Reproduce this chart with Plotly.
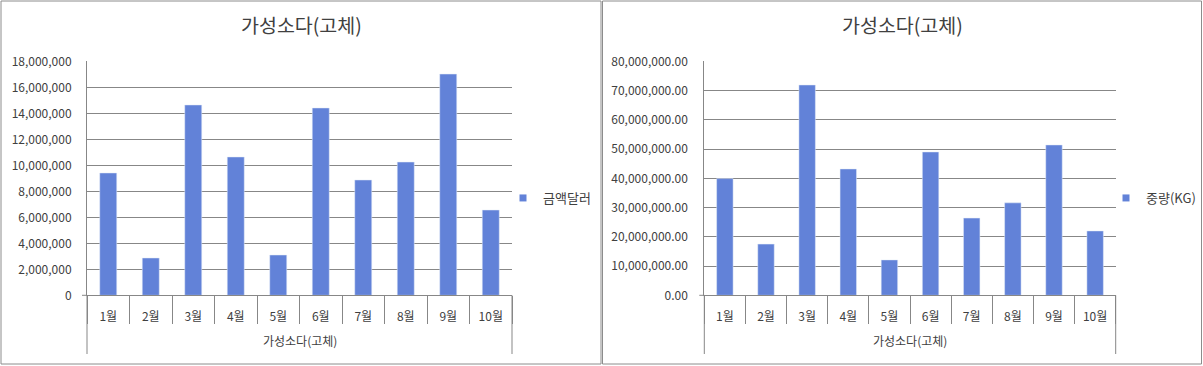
import plotly.graph_objects as go

months = ["1월", "2월", "3월", "4월", "5월", "6월", "7월", "8월", "9월", "10월"]
group_label = "가성소다(고체)"
chart_title = "가성소다(고체)"
amount_name = "금액달러"
weight_name = "중량(KG)"
amount_usd = [9410000, 2870000, 14640000, 10640000, 3100000, 14410000, 8870000, 10250000, 17020000, 6560000]
weight_kg = [39900000, 17500000, 71900000, 43200000, 12100000, 49000000, 26400000, 31600000, 51400000, 22000000]

W, H = 1203, 366
BAR = "#6282D8"
GRID = "#878787"
FONT = "Malgun Gothic, Noto Sans CJK KR, sans-serif"
TXT = "#404040"

def px(v):
    return v / W

def py(v):
    return 1 - v / H

y_top, y_bot = 61.3, 295.3
dom_left = [px(87), px(512)]
dom_right = [px(704.3), px(1115.7)]

fig = go.Figure()
fig.add_trace(go.Bar(x=months, y=amount_usd, name=amount_name, marker_color=BAR,
                     xaxis="x", yaxis="y", showlegend=False))
fig.add_trace(go.Bar(x=months, y=weight_kg, name=weight_name, marker_color=BAR,
                     xaxis="x2", yaxis="y2", showlegend=False))
# legend entries (small square markers like the original)
fig.add_trace(go.Scatter(x=[None], y=[None], mode="markers", name=amount_name,
                         marker=dict(symbol="square", size=7, color=BAR),
                         xaxis="x", yaxis="y", legend="legend"))
fig.add_trace(go.Scatter(x=[None], y=[None], mode="markers", name=weight_name,
                         marker=dict(symbol="square", size=7, color=BAR),
                         xaxis="x2", yaxis="y2", legend="legend2"))

xcommon = dict(type="category", tickson="boundaries", ticks="outside", ticklen=28,
               tickcolor=GRID, tickwidth=1, showline=True, linecolor=GRID, linewidth=1,
               showgrid=False, ticklabelstandoff=10, automargin=False,
               tickfont=dict(family=FONT, size=12, color=TXT), fixedrange=True)
ycommon = dict(showgrid=True, gridcolor=GRID, gridwidth=1, showline=True, linecolor=GRID,
               linewidth=1, zeroline=False, ticks="", automargin=False,
               tickfont=dict(family=FONT, size=12, color=TXT), fixedrange=True)

fig.update_layout(
    width=W, height=H, margin=dict(l=0, r=0, t=0, b=0, pad=0, autoexpand=False),
    paper_bgcolor="white", plot_bgcolor="white",
    bargap=0.6, font=dict(family=FONT, color=TXT),
    xaxis=dict(domain=dom_left, anchor="y", **xcommon),
    yaxis=dict(domain=[py(y_bot), py(y_top)], anchor="x", range=[0, 18000000],
               dtick=2000000, tickformat=",", ticklabelstandoff=12, **ycommon),
    xaxis2=dict(domain=dom_right, anchor="y2", **xcommon),
    yaxis2=dict(domain=[py(y_bot), py(y_top)], anchor="x2", range=[0, 80000000],
                dtick=10000000, tickformat=",.2f", ticklabelstandoff=13, **ycommon),
    legend=dict(x=px(503), y=py(198), xanchor="left", yanchor="middle",
                font=dict(family=FONT, size=13, color=TXT), bgcolor="rgba(0,0,0,0)"),
    legend2=dict(x=px(1106), y=py(198), xanchor="left", yanchor="middle",
                 font=dict(family=FONT, size=13, color=TXT), bgcolor="rgba(0,0,0,0)"),
)

shapes = []
# chart frames
shapes.append(dict(type="rect", xref="paper", yref="paper", x0=px(1), x1=px(601),
                   y0=py(364), y1=py(1), line=dict(color="#8C8C8C", width=1)))
shapes.append(dict(type="rect", xref="paper", yref="paper", x0=px(602.5), x1=px(1201.5),
                   y0=py(364), y1=py(1), line=dict(color="#8C8C8C", width=1)))
annotations = []
for xr, yr in (("x domain", "y"), ("x2 domain", "y2")):
    # outer group box edges of the category axis
    for xe in (0, 1):
        shapes.append(dict(type="line", xref=xr, yref="paper", x0=xe, x1=xe,
                           y0=py(y_bot), y1=py(354), line=dict(color=GRID, width=1)))
    # small extension of the horizontal axis to the left
    shapes.append(dict(type="line", xref=xr, yref="paper", xsizemode="pixel", xanchor=0,
                       x0=-5, x1=0, y0=py(y_bot), y1=py(y_bot), line=dict(color=GRID, width=1)))
    annotations.append(dict(text=group_label, xref=xr, yref="paper", x=0.5, y=py(340),
                            showarrow=False, xanchor="center", yanchor="middle",
                            font=dict(family=FONT, size=12, color=TXT)))
annotations.append(dict(text=chart_title, xref="paper", yref="paper", x=px(301), y=py(25),
                        showarrow=False, xanchor="center", yanchor="middle",
                        font=dict(family=FONT, size=19.5, color=TXT)))
annotations.append(dict(text=chart_title, xref="paper", yref="paper", x=px(902), y=py(25),
                        showarrow=False, xanchor="center", yanchor="middle",
                        font=dict(family=FONT, size=19.5, color=TXT)))
fig.update_layout(shapes=shapes, annotations=annotations)

fig.write_html("out.html", config={"displayModeBar": False},
               post_script="document.documentElement.style.margin='0';"
                           "document.documentElement.style.overflow='hidden';"
                           "document.body.style.margin='0';document.body.style.padding='0';"
                           "document.body.style.overflow='hidden';"
                           "var d=document.getElementById('{plot_id}');"
                           "d.style.position='fixed';d.style.top='0px';d.style.left='0px';")
